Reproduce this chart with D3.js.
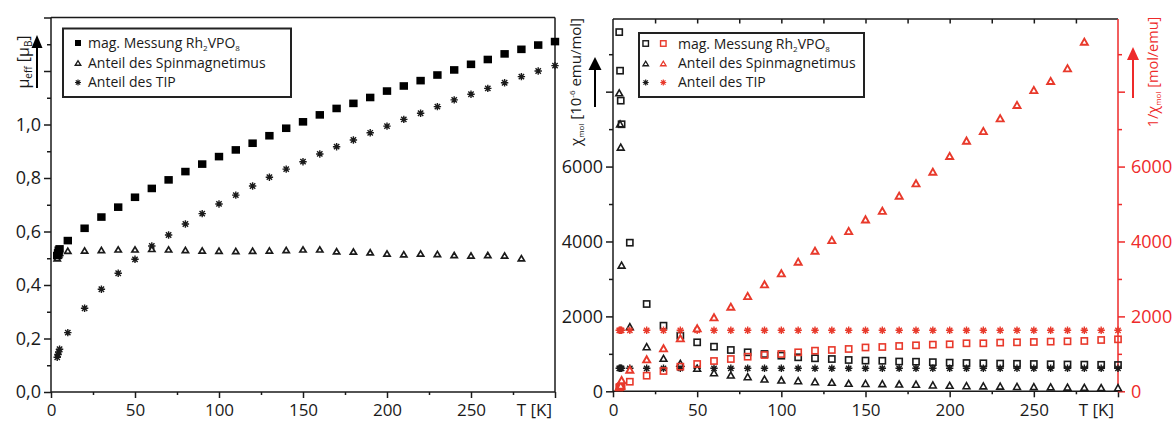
<!DOCTYPE html>
<html><head><meta charset="utf-8">
<script src="https://cdn.jsdelivr.net/npm/d3@7"></script>
<style>
body{margin:0;background:#fff}
svg{display:block}
text{font-family:"Open Sans",sans-serif}
</style>
</head><body>
<svg id="c" width="1173" height="421"></svg>
<script>
// ---------- data ----------
const temps = [3.7,4.2,4.6,5.1,10,20,30,40,50,60,70,80,90,100,110,120,130,140,150,160,170,180,190,200,210,220,230,240,250,260,270,280,290,300];
// left panel: effective moment [μB]
const muMag  = [0.51,0.52,0.53,0.535,0.566,0.612,0.654,0.691,0.728,0.761,0.793,0.824,0.852,0.880,0.905,0.930,0.958,0.986,1.010,1.036,1.060,1.079,1.101,1.125,1.144,1.164,1.185,1.204,1.225,1.243,1.264,1.281,1.297,1.310];
const muSpin = [0.50,0.51,0.515,0.52,0.528,0.529,0.531,0.533,0.533,0.535,0.533,0.531,0.529,0.528,0.527,0.528,0.529,0.531,0.533,0.533,0.526,0.525,0.522,0.518,0.515,0.518,0.516,0.512,0.510,0.512,0.510,0.500,null,null];
const muTIP  = [0.13,0.14,0.15,0.16,0.222,0.313,0.384,0.444,0.496,0.546,0.587,0.628,0.667,0.703,0.736,0.770,0.803,0.833,0.861,0.890,0.917,0.942,0.969,0.994,1.019,1.042,1.067,1.092,1.113,1.135,1.156,1.179,1.200,1.220];
// right panel: chi_mol [1e-6 emu/mol] (black)
const chiMag  = [9590,8560,7760,7130,3968,2331,1752,1485,1308,1191,1103,1041,996,951,908,881,862,836,820,815,795,790,778,765,755,748,740,735,729,722,716,712,707,702];
const chiSpin = [7970,7140,6520,3370,1725,1191,881,748,614,497,435,390,328,302,283,256,240,214,210,205,195,190,170,160,150,145,138,130,125,118,112,107,100,96];
const chiTIP  = [614,614,614,614,614,614,614,614,614,614,614,614,614,614,614,614,614,614,614,614,614,614,614,614,614,614,614,614,614,614,614,614,614,614];
// right panel: 1/chi_mol [mol/emu] (red)
const invMag  = [104,117,129,140,256,417,542,657,729,809,862,924,969,996,1041,1085,1103,1130,1170,1183,1210,1228,1246,1255,1282,1282,1300,1308,1317,1326,1335,1344,1370,1388];
const invSpin = [125,140,153,300,580,854,1148,1415,1682,1976,2259,2545,2857,3151,3461,3754,4040,4280,4590,4820,5223,5554,5864,6283,6692,6950,7290,7645,8045,8286,8625,9335,null,null];
const invTIP  = [1628,1628,1628,1628,1628,1628,1628,1628,1628,1628,1628,1628,1628,1628,1628,1628,1628,1628,1628,1628,1628,1628,1628,1628,1628,1628,1628,1628,1628,1628,1628,1628,1628,1628];

const xLabelTicks = [0,50,100,150,200,250];
const muLabelTicks = [0,0.2,0.4,0.6,0.8,1.0];
const chiLabelTicks = [0,2000,4000,6000];
const legendLabels = ["mag. Messung Rh", "Anteil des Spinmagnetimus", "Anteil des TIP"];

const RED = "#e8392b";
const RED_AX = "#ee2a2a";
const INK = "#1a1a1a";
const TICK_FS = 17;

// ---------- setup ----------
const svg = d3.select("#c");
svg.append("rect").attr("width",1173).attr("height",421).attr("fill","#fff");

const xL = d3.scaleLinear().domain([0,300]).range([51,555]);
const yL = d3.scaleLinear().domain([0,1.4]).range([392,17.5]);
const xR = d3.scaleLinear().domain([0,300]).range([613,1118]);
const yR = d3.scaleLinear().domain([0,9940]).range([391.3,19]);

const commaFmt = v => d3.format(".1f")(v).replace(".", ",");

function styleAxis(g, color, fs){
  g.select(".domain").remove();
  g.selectAll(".tick line").attr("stroke", color).attr("stroke-width",1.5);
  g.selectAll(".tick text").attr("fill", color).style("font-size", fs+"px").style("font-family","'Open Sans',sans-serif");
}

// marker painters
function square(g, x, y, s, fill, stroke, sw){
  g.append("rect").attr("x",x-s/2).attr("y",y-s/2).attr("width",s).attr("height",s)
    .attr("fill",fill).attr("stroke",stroke||"none").attr("stroke-width",sw||1.5);
}
function tri(g, x, y, w, h, color, sw){
  g.append("path").attr("d",`M${x-w/2},${y+h/2}L${x+w/2},${y+h/2}L${x},${y-h/2}Z`)
    .attr("fill","#fff").attr("stroke",color).attr("stroke-width",sw||1.5).attr("stroke-linejoin","miter");
}
function star(g, x, y, r, color, sw){
  const d = r*0.72;
  g.append("path").attr("d",`M${x-r},${y}L${x+r},${y}M${x},${y-r}L${x},${y+r}M${x-d},${y-d}L${x+d},${y+d}M${x-d},${y+d}L${x+d},${y-d}`)
    .attr("stroke",color).attr("stroke-width",sw||1.3).attr("fill","none");
}

// ---------- LEFT PANEL ----------
const L = svg.append("g");
L.append("line").attr("x1",51).attr("x2",555).attr("y1",17.5).attr("y2",17.5).attr("stroke",INK).attr("stroke-width",1.5);
L.append("line").attr("x1",555).attr("x2",555).attr("y1",17.5).attr("y2",392).attr("stroke",INK).attr("stroke-width",1.5);
const gxL = L.append("g").attr("transform","translate(0,392)")
  .call(d3.axisBottom(xL).tickValues([0,50,100,150,200,250,300]).tickSize(6).tickFormat(d => xLabelTicks.includes(d) ? d : ""));
styleAxis(gxL, INK, TICK_FS);
gxL.selectAll(".tick text").attr("y",24).attr("dy",0);
const gxLm = L.append("g").attr("transform","translate(0,392)")
  .call(d3.axisBottom(xL).tickValues([25,75,125,175,225,275]).tickSize(3).tickFormat(""));
styleAxis(gxLm, INK, TICK_FS);
const gyL = L.append("g").attr("transform","translate(51,0)")
  .call(d3.axisLeft(yL).tickValues([0,0.2,0.4,0.6,0.8,1.0,1.2,1.4]).tickSize(7).tickPadding(3)
  .tickFormat(d => muLabelTicks.some(v => Math.abs(v-d)<1e-9) ? commaFmt(d) : ""));
styleAxis(gyL, INK, 18);
const gyLm = L.append("g").attr("transform","translate(51,0)")
  .call(d3.axisLeft(yL).tickValues([0.1,0.3,0.5,0.7,0.9,1.1,1.3]).tickSize(4).tickFormat(""));
styleAxis(gyLm, INK, 18);
L.append("line").attr("x1",51).attr("x2",51).attr("y1",17.5).attr("y2",392).attr("stroke",INK).attr("stroke-width",1.5);
L.append("line").attr("x1",51).attr("x2",555).attr("y1",392).attr("y2",392).attr("stroke",INK).attr("stroke-width",1.5);

const dL = L.append("g");
temps.forEach((t,i) => { if (muTIP[i]!=null) star(dL, xL(t), yL(muTIP[i]), 3.7, INK, 1.4); });
temps.forEach((t,i) => { if (muSpin[i]!=null) tri(dL, xL(t), yL(muSpin[i]), 6.2, 5.2, INK, 1.7); });
temps.forEach((t,i) => { if (muMag[i]!=null) dL.append("rect").attr("x",xL(t)-4.2).attr("y",yL(muMag[i])-3.8).attr("width",8.4).attr("height",7.6).attr("fill","#000"); });

const tL = L.append("text").attr("transform","translate(29,62) rotate(-90)").attr("text-anchor","middle")
  .style("font-size","16px").attr("fill",INK);
tL.append("tspan").text("μ");
tL.append("tspan").text("eff").style("font-size","10px").attr("dy",3);
tL.append("tspan").text(" [μ").attr("dy",-3);
tL.append("tspan").text("B").style("font-size","10px").attr("dy",3);
tL.append("tspan").text("]").attr("dy",-3);
L.append("line").attr("x1",37).attr("x2",37).attr("y1",88).attr("y2",46).attr("stroke","#000").attr("stroke-width",2);
L.append("path").attr("d","M31.5,48L42.5,48L37,35Z").attr("fill","#000");
L.append("text").attr("x",552).attr("y",416).attr("text-anchor","end").style("font-size",TICK_FS+"px").attr("fill",INK).text("T [K]");

const lgL = L.append("g");
lgL.append("rect").attr("x",63).attr("y",28.5).attr("width",228).attr("height",68.5).attr("fill","#fff").attr("stroke","#222").attr("stroke-width",2);
const rowsY = [43, 62.5, 82];
lgL.append("rect").attr("x",75).attr("y",rowsY[0]-3).attr("width",6).attr("height",6).attr("fill","#000");
tri(lgL, 78, rowsY[1]+0.5, 5.5, 4.5, INK, 1.4);
star(lgL, 78, rowsY[2]+0.5, 3, INK, 1.2);
function legendText(g, x, y, i){
  const t = g.append("text").attr("x",x).attr("y",y+5).style("font-size","14px").attr("fill",INK);
  if (i===0){
    t.append("tspan").text(legendLabels[0]);
    t.append("tspan").text("2").style("font-size","8px").attr("dy",3);
    t.append("tspan").text("VPO").attr("dy",-3);
    t.append("tspan").text("8").style("font-size","8px").attr("dy",3);
  } else t.text(legendLabels[i]);
}
rowsY.forEach((y,i) => legendText(lgL, 88, y, i));

// ---------- RIGHT PANEL ----------
const R = svg.append("g");
R.append("line").attr("x1",613).attr("x2",1118).attr("y1",19).attr("y2",19).attr("stroke",INK).attr("stroke-width",1.5);
const gtR = R.append("g").attr("transform","translate(0,19)")
  .call(d3.axisTop(xR).tickValues([25,50,75,100,125,150,175,200,225,250,275]).tickSize(-4.5).tickFormat(""));
styleAxis(gtR, INK, TICK_FS);
const gxR = R.append("g").attr("transform","translate(0,391.3)")
  .call(d3.axisBottom(xR).tickValues([0,50,100,150,200,250,300]).tickSize(6).tickFormat(d => xLabelTicks.includes(d) ? d : ""));
styleAxis(gxR, INK, TICK_FS);
gxR.selectAll(".tick text").attr("y",24.7).attr("dy",0);
const gxRm = R.append("g").attr("transform","translate(0,391.3)")
  .call(d3.axisBottom(xR).tickValues([25,75,125,175,225,275]).tickSize(3).tickFormat(""));
styleAxis(gxRm, INK, TICK_FS);
const gyR = R.append("g").attr("transform","translate(613,0)")
  .call(d3.axisLeft(yR).tickValues([0,2000,4000,6000,8000]).tickSize(7).tickPadding(3)
  .tickFormat(d => chiLabelTicks.includes(d) ? d : ""));
styleAxis(gyR, INK, 18);
const gyRm = R.append("g").attr("transform","translate(613,0)")
  .call(d3.axisLeft(yR).tickValues([1000,3000,5000,7000,9000]).tickSize(4).tickFormat(""));
styleAxis(gyRm, INK, 18);
const gy2 = R.append("g").attr("transform","translate(1118,0)")
  .call(d3.axisRight(yR).tickValues([0,2000,4000,6000,8000]).tickSize(7).tickPadding(6)
  .tickFormat(d => chiLabelTicks.includes(d) ? d : ""));
styleAxis(gy2, RED_AX, 18);
const gy2m = R.append("g").attr("transform","translate(1118,0)")
  .call(d3.axisRight(yR).tickValues([1000,3000,5000,7000,9000]).tickSize(4).tickFormat(""));
styleAxis(gy2m, RED_AX, 18);
R.append("line").attr("x1",613).attr("x2",613).attr("y1",19).attr("y2",391.3).attr("stroke",INK).attr("stroke-width",1.5);
R.append("line").attr("x1",613).attr("x2",1118).attr("y1",391.3).attr("y2",391.3).attr("stroke",INK).attr("stroke-width",1.5);
R.append("line").attr("x1",1118).attr("x2",1118).attr("y1",19).attr("y2",391.3).attr("stroke",RED_AX).attr("stroke-width",1.5);

const dR = R.append("g");
temps.forEach((t,i) => { if (chiTIP[i]!=null) star(dR, xR(t), yR(chiTIP[i]), 3.7, INK, 1.4); });
temps.forEach((t,i) => { if (chiSpin[i]!=null) tri(dR, xR(t), yR(chiSpin[i]), 6.8, 6, INK, 1.6); });
temps.forEach((t,i) => { if (chiMag[i]!=null) square(dR, xR(t), yR(chiMag[i]), 6.2, "none", INK, 1.6); });
temps.forEach((t,i) => { if (invTIP[i]!=null) star(dR, xR(t), yR(invTIP[i]), 3.7, RED, 1.4); });
temps.forEach((t,i) => { if (invMag[i]!=null) square(dR, xR(t), yR(invMag[i]), 6.2, "none", RED, 1.6); });
temps.forEach((t,i) => { if (invSpin[i]!=null) tri(dR, xR(t), yR(invSpin[i]), 7, 6.2, RED, 1.9); });

const tR = R.append("text").attr("transform","translate(581,82) rotate(-90)").attr("text-anchor","middle")
  .style("font-size","15px").attr("fill",INK);
tR.append("tspan").text("χ");
tR.append("tspan").text("mol").style("font-size","8px").attr("dy",3);
tR.append("tspan").text(" [10").attr("dy",-3);
tR.append("tspan").text("-6").style("font-size","8px").attr("dy",-6);
tR.append("tspan").text(" emu/mol]").attr("dy",6);
R.append("line").attr("x1",595).attr("x2",595).attr("y1",107).attr("y2",68).attr("stroke","#000").attr("stroke-width",2);
R.append("path").attr("d","M588.5,70L601.5,70L595,57Z").attr("fill","#000");

const tR2 = R.append("text").attr("transform","translate(1158,72) rotate(-90)").attr("text-anchor","middle")
  .style("font-size","14.5px").attr("fill",RED_AX);
tR2.append("tspan").text("1/χ");
tR2.append("tspan").text("mol").style("font-size","8px").attr("dy",3);
tR2.append("tspan").text(" [mol/emu]").attr("dy",-3);
R.append("line").attr("x1",1133).attr("x2",1133).attr("y1",98).attr("y2",58).attr("stroke",RED_AX).attr("stroke-width",2);
R.append("path").attr("d","M1127,60L1139,60L1133,47Z").attr("fill",RED_AX);

R.append("text").attr("x",1114).attr("y",416).attr("text-anchor","end").style("font-size",TICK_FS+"px").attr("fill",INK).text("T [K]");

const lgR = R.append("g");
lgR.append("rect").attr("x",639).attr("y",33).attr("width",225).attr("height",64).attr("fill","#fff").attr("stroke","#222").attr("stroke-width",2);
const rowsR = [43.5, 63, 82];
square(lgR, 645.7, rowsR[0], 5.5, "none", INK, 1.4);
square(lgR, 663.3, rowsR[0], 5.5, "none", RED, 1.4);
tri(lgR, 645.7, rowsR[1]+0.5, 5.5, 4.5, INK, 1.3);
tri(lgR, 663.3, rowsR[1]+0.5, 5.5, 4.5, RED, 1.3);
star(lgR, 645.7, rowsR[2]+0.5, 3, INK, 1.2);
star(lgR, 663.3, rowsR[2]+0.5, 3, RED, 1.2);
rowsR.forEach((y,i) => legendText(lgR, 678, y, i));
</script>
</body></html>
